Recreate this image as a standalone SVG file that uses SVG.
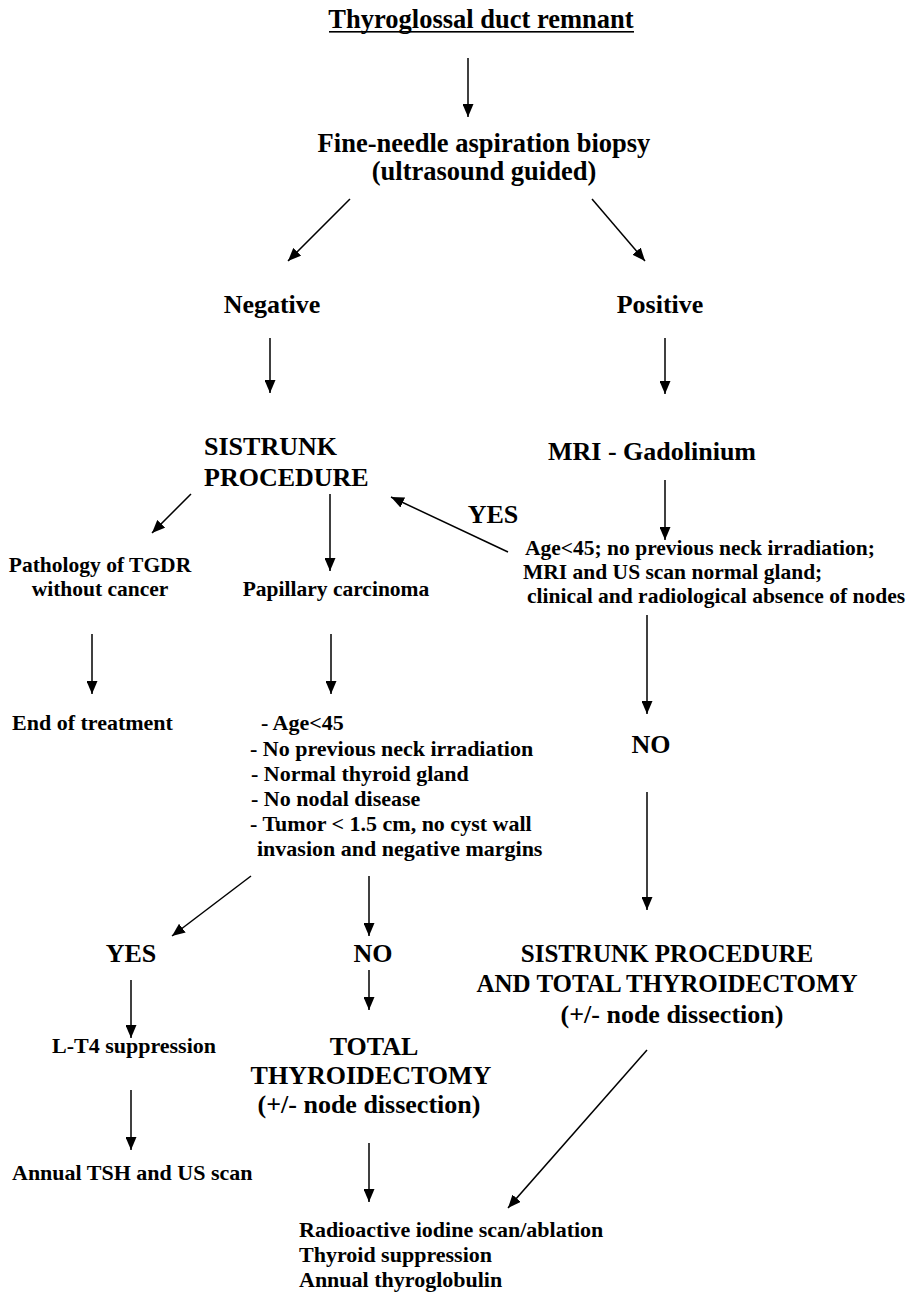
<svg xmlns="http://www.w3.org/2000/svg" width="921" height="1293" viewBox="0 0 921 1293">
<style>
text{font-family:"Liberation Serif","Times New Roman",serif;font-weight:bold;fill:#000}
.h{font-size:26px}
.b{font-size:25px}
.t{font-size:26.5px}
.s{font-size:22px}
.p{font-size:21.5px}
.r{font-size:21.5px}
.c{text-anchor:middle}
line{stroke:#000;stroke-width:1.5;marker-end:url(#ah)}
</style>
<defs>
<marker id="ah" viewBox="0 0 13 11" refX="13" refY="5.5" markerWidth="13" markerHeight="11" markerUnits="userSpaceOnUse" orient="auto"><path d="M0,0 L13,5.5 L0,11 z" fill="#000"/></marker>
</defs>
<rect width="921" height="1293" fill="#fff"/>
<g id="title"><text class="t c" x="481" y="28">Thyroglossal duct remnant</text><rect x="329" y="31" width="305" height="1.6" fill="#000"/></g>
<g id="fna"><text class="t c" x="484" y="152">Fine-needle aspiration biopsy</text><text class="t c" x="484" y="180">(ultrasound guided)</text></g>
<g id="negative"><text class="h c" x="272" y="313">Negative</text></g>
<g id="positive"><text class="h c" x="660" y="313">Positive</text></g>
<g id="sistrunk"><text class="h" x="204" y="455">SISTRUNK</text><text class="h" x="204" y="486">PROCEDURE</text></g>
<g id="mri"><text class="h c" x="652" y="460">MRI - Gadolinium</text></g>
<g id="yes1"><text class="h c" x="493" y="523">YES</text></g>
<g id="criteria1"><text class="r" x="525" y="555">Age&lt;45; no previous neck irradiation;</text><text class="r" x="523" y="579">MRI and US scan normal gland;</text><text class="r" x="527" y="603">clinical and radiological absence of nodes</text></g>
<g id="pathology"><text class="p c" x="100" y="572">Pathology of TGDR</text><text class="p c" x="100" y="596">without cancer</text></g>
<g id="papillary"><text class="p c" x="336" y="596">Papillary carcinoma</text></g>
<g id="end"><text class="s" x="12" y="730">End of treatment</text></g>
<g id="criteria2"><text class="s" x="261" y="730">- Age&lt;45</text><text class="s" x="250" y="756">- No previous neck irradiation</text><text class="s" x="251" y="781">- Normal thyroid gland</text><text class="s" x="251" y="806">- No nodal disease</text><text class="s" x="250" y="831">- Tumor &lt; 1.5 cm, no cyst wall</text><text class="s" x="257" y="856">invasion and negative margins</text></g>
<g id="no1"><text class="h c" x="651" y="753">NO</text></g>
<g id="yes2"><text class="h c" x="131" y="962">YES</text></g>
<g id="no2"><text class="h c" x="373" y="962">NO</text></g>
<g id="sistrunk-total"><text class="b c" x="667" y="962">SISTRUNK PROCEDURE</text><text class="b c" x="667" y="992">AND TOTAL THYROIDECTOMY</text><text class="h c" x="672" y="1023">(+/- node dissection)</text></g>
<g id="lt4"><text class="s c" x="134" y="1053">L-T4 suppression</text></g>
<g id="total"><text class="h c" x="374" y="1055">TOTAL</text><text class="h c" x="371" y="1084">THYROIDECTOMY</text><text class="h c" x="369" y="1113">(+/- node dissection)</text></g>
<g id="annual"><text class="s" x="12" y="1180">Annual TSH and US scan</text></g>
<g id="followup"><text class="s" x="299" y="1237">Radioactive iodine scan/ablation</text><text class="s" x="299" y="1262">Thyroid suppression</text><text class="s" x="299" y="1287">Annual thyroglobulin</text></g>
<g id="connectors">
<line x1="468" y1="58" x2="468" y2="117"/>
<line x1="350" y1="199" x2="288" y2="261"/>
<line x1="592" y1="199" x2="645" y2="261"/>
<line x1="270" y1="338" x2="270" y2="393"/>
<line x1="665" y1="338" x2="665" y2="394"/>
<line x1="665" y1="480" x2="665" y2="540"/>
<line x1="508" y1="552" x2="391" y2="497"/>
<line x1="191" y1="494" x2="152" y2="533"/>
<line x1="330" y1="494" x2="330" y2="571"/>
<line x1="92" y1="634" x2="92" y2="694"/>
<line x1="331" y1="634" x2="331" y2="694"/>
<line x1="647" y1="615" x2="647" y2="714"/>
<line x1="647" y1="792" x2="647" y2="910"/>
<line x1="251" y1="876" x2="172" y2="936"/>
<line x1="369" y1="876" x2="369" y2="936"/>
<line x1="131" y1="980" x2="131" y2="1038"/>
<line x1="369" y1="970" x2="369" y2="1010"/>
<line x1="131" y1="1090" x2="131" y2="1150"/>
<line x1="369" y1="1143" x2="369" y2="1202"/>
<line x1="647" y1="1050" x2="508" y2="1208"/>
</g>
</svg>
